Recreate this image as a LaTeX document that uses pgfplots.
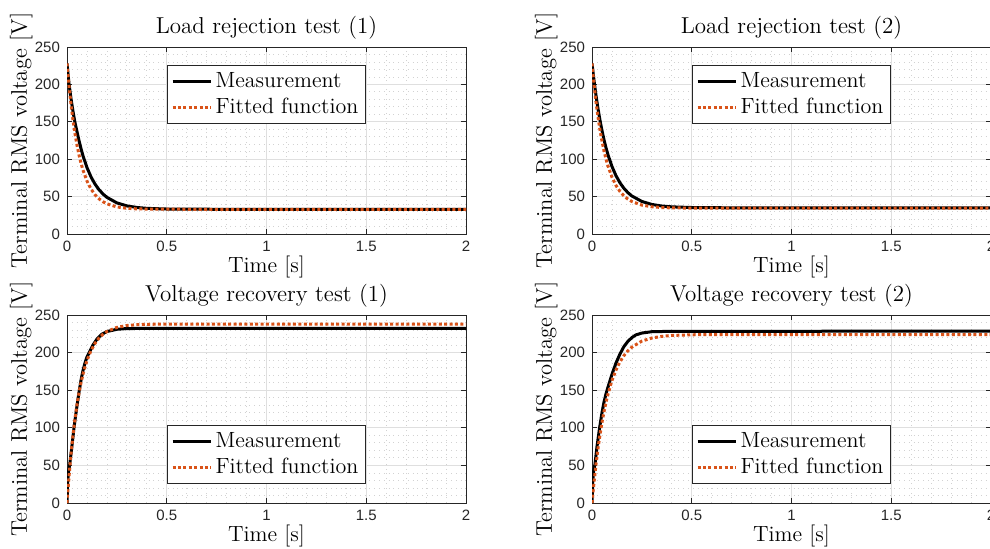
\documentclass[border=0pt]{standalone}
\usepackage{fontspec}
\usepackage{pgfplots}
\pgfplotsset{compat=1.18}
\newfontfamily\ticksf{Liberation Sans}
\definecolor{mlorange}{rgb}{0.85,0.325,0.098}
\definecolor{axgray}{rgb}{0.15,0.15,0.15}

\pgfplotsset{
  myax/.style={
    scale only axis, width=199.5pt, height=93.5pt,
    anchor=south west,
    xmin=0, xmax=2, ymin=0, ymax=250,
    xtick={0,0.5,1,1.5,2}, ytick={0,50,100,150,200,250},
    minor x tick num=4, minor y tick num=4,
    grid=both,
    major grid style={gray!25, line width=0.4pt},
    minor grid style={gray!35, dotted, line width=0.4pt},
    axis line style={axgray, line width=0.5pt},
    tick style={axgray, line width=0.5pt},
    major tick length=2.5pt, minor tick length=0pt,
    tick align=inside,
    /pgf/number format/assume math mode=true,
    tick label style={font=\ticksf\fontsize{7.5}{9}\selectfont, text=axgray},
    xticklabel style={/pgf/number format/fixed},
    title style={font=\fontsize{11.5}{13}\selectfont, at={(axis description cs:0.5,1)}, anchor=south, inner sep=0pt, yshift=-2.5pt},
    label style={font=\fontsize{11}{13}\selectfont},
    xlabel={Time [s]},
    xlabel style={at={(axis description cs:0.5,0)}, anchor=center, yshift=-16.5pt},
    ylabel={Terminal RMS voltage [V]},
    ylabel style={at={(axis description cs:-0.115,0.5)}, anchor=center, font=\fontsize{11.3}{13}\selectfont},
    legend cell align=left,
    legend style={font=\fontsize{11}{13}\selectfont, draw=axgray, line width=0.5pt,
      inner xsep=2pt, inner ysep=1.5pt, row sep=0pt,
      nodes={inner xsep=1.8pt}},
    legend image code/.code={\draw[#1] (0pt,0pt) -- (19pt,0pt);},
  },
  meas/.style={black, line width=1.5pt},
  fit/.style={mlorange, line width=1.5pt, dash pattern=on 1.5pt off 1.2pt},
}

\begin{document}
\begin{tikzpicture}
\clip (0,0) rectangle (495pt,274pt);

% ---------- Load rejection test (1)
\begin{axis}[myax, at={(33.5pt,157pt)}, title={Load rejection test (1)},
  legend style={at={(0.5,0.904)}, anchor=north}]
\addplot[meas] coordinates {(0,228) (0.01,201) (0.02,181) (0.03,164) (0.04,149) (0.05,137) (0.06,125.1) (0.07,114.3) (0.08,104.7) (0.10,88.9) (0.12,76.5) (0.14,66.9) (0.16,59.4) (0.18,53.6) (0.20,49.0) (0.25,41.6) (0.30,37.6) (0.35,35.5) (0.40,34.3) (0.5,33.4) (0.7,33.1) (1,33.0) (2,33.0)};
\addlegendentry{Measurement}
\addplot[fit] coordinates {(0,228) (0.01,198.5) (0.02,173.5) (0.03,152.2) (0.04,134.2) (0.05,118.9) (0.06,105.9) (0.07,94.9) (0.08,85.5) (0.10,70.8) (0.12,60.3) (0.14,52.6) (0.16,47.2) (0.18,43.2) (0.20,40.4) (0.25,36.2) (0.30,34.4) (0.35,33.6) (0.40,33.3) (0.5,33.1) (2,33.0)};
\addlegendentry{Fitted function}
\end{axis}

% ---------- Load rejection test (2)
\begin{axis}[myax, at={(296pt,157pt)}, title={Load rejection test (2)},
  legend style={at={(0.5,0.904)}, anchor=north}]
\addplot[meas] coordinates {(0,228) (0.01,205.3) (0.02,185.3) (0.03,167.6) (0.04,152.1) (0.05,138.3) (0.06,126.2) (0.07,115.5) (0.08,106.0) (0.10,90.3) (0.12,78.1) (0.14,68.5) (0.16,61.1) (0.18,55.3) (0.20,50.8) (0.25,43.5) (0.30,39.5) (0.35,37.4) (0.40,36.3) (0.5,35.4) (0.7,35.0) (2,35.0)};
\addlegendentry{Measurement}
\addplot[fit] coordinates {(0,228) (0.01,200.4) (0.02,176.7) (0.03,156.5) (0.04,139.1) (0.05,124.2) (0.06,111.4) (0.07,100.4) (0.08,91.0) (0.10,76.0) (0.12,65.0) (0.14,56.9) (0.16,51.0) (0.18,46.6) (0.20,43.4) (0.25,38.6) (0.30,36.4) (0.35,35.4) (0.40,34.9) (0.5,34.6) (2,34.6)};
\addlegendentry{Fitted function}
\end{axis}

% ---------- Voltage recovery test (1)
\begin{axis}[myax, at={(33.5pt,22.5pt)}, height=94pt, title={Voltage recovery test (1)},
  legend style={at={(0.5,0.10)}, anchor=south}]
\addplot[meas] coordinates {(0,0) (0.003,25) (0.006,38) (0.01,45) (0.013,50) (0.02,65) (0.03,88) (0.035,100) (0.04,110) (0.05,129) (0.06,147) (0.07,163) (0.08,176) (0.09,186) (0.10,194) (0.113,201) (0.13,210) (0.15,218) (0.175,224.5) (0.2,228) (0.25,231) (0.3,232) (0.5,232.3) (2,232.3)};
\addlegendentry{Measurement}
\addplot[fit] coordinates {(0,0) (0.01,34.9) (0.02,64.7) (0.03,90.2) (0.04,111.9) (0.05,130.4) (0.06,146.1) (0.07,159.7) (0.08,171.1) (0.09,181.0) (0.10,189.3) (0.12,202.6) (0.14,212.2) (0.16,219.2) (0.18,224.3) (0.20,228.1) (0.25,233.5) (0.30,236.0) (0.35,237.1) (0.40,237.6) (0.5,237.9) (2,238.0)};
\addlegendentry{Fitted function}
\end{axis}

% ---------- Voltage recovery test (2)
\begin{axis}[myax, at={(296pt,22.5pt)}, height=94pt, title={Voltage recovery test (2)},
  legend style={at={(0.5,0.10)}, anchor=south}]
\addplot[meas] coordinates {(0,0) (0.004,30) (0.008,42) (0.015,52) (0.025,75) (0.038,100) (0.05,120) (0.06,134) (0.07,145) (0.08,154) (0.10,171) (0.12,186) (0.14,198) (0.16,208) (0.18,215) (0.20,220) (0.22,223.5) (0.25,226) (0.3,227.8) (0.4,228.3) (2,228.5)};
\addlegendentry{Measurement}
\addplot[fit] coordinates {(0,0) (0.01,27.3) (0.02,51.3) (0.03,72.4) (0.04,90.7) (0.05,107.0) (0.06,121.2) (0.07,133.7) (0.08,144.7) (0.10,162.9) (0.12,176.8) (0.14,187.6) (0.16,196.0) (0.18,202.4) (0.20,207.3) (0.25,215.3) (0.30,219.4) (0.35,221.6) (0.40,222.8) (0.5,223.7) (0.6,224.0) (2,224.0)};
\addlegendentry{Fitted function}
\end{axis}
\end{tikzpicture}
\end{document}
